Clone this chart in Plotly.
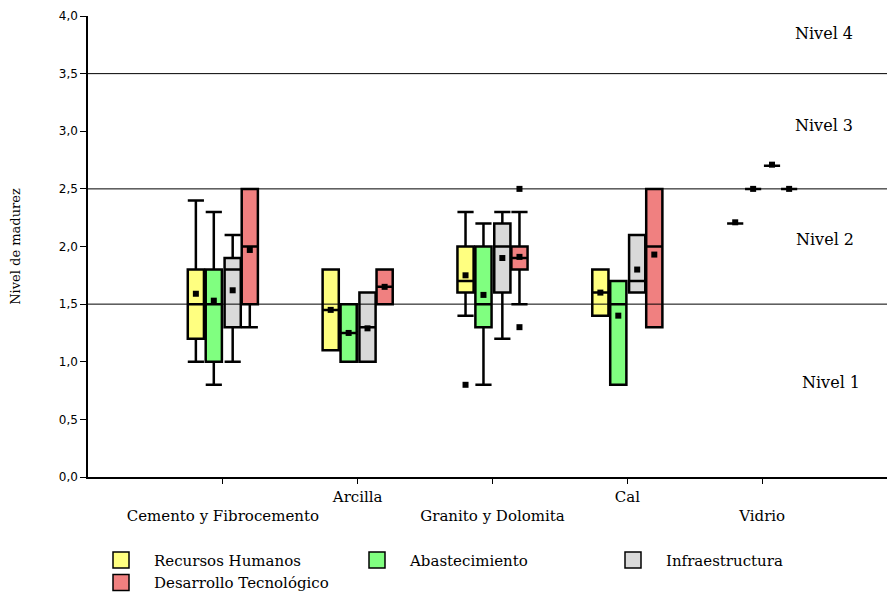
import plotly.graph_objects as go

categories = ["Cemento y Fibrocemento", "Arcilla", "Granito y Dolomita", "Cal", "Vidrio"]
cat_labels = ["\u00a0<br>Cemento y Fibrocemento", "Arcilla", "\u00a0<br>Granito y Dolomita", "Cal", "\u00a0<br>Vidrio"]

series = ["Recursos Humanos", "Abastecimiento", "Infraestructura", "Desarrollo Tecnológico"]
colors = ["#FFFF80", "#80FF80", "#D9D9D9", "#F08080"]

# per series: values for each category
lower = {
    "Recursos Humanos":       [1.0, 1.1, 1.4, 1.4, 2.2],
    "Abastecimiento":         [0.8, 1.0, 0.8, 0.8, 2.5],
    "Infraestructura":        [1.0, 1.0, 1.2, 1.6, 2.7],
    "Desarrollo Tecnológico": [1.3, 1.5, 1.5, 1.3, 2.5],
}
q1 = {
    "Recursos Humanos":       [1.2, 1.1, 1.6, 1.4, 2.2],
    "Abastecimiento":         [1.0, 1.0, 1.3, 0.8, 2.5],
    "Infraestructura":        [1.3, 1.0, 1.6, 1.6, 2.7],
    "Desarrollo Tecnológico": [1.5, 1.5, 1.8, 1.3, 2.5],
}
median = {
    "Recursos Humanos":       [1.5, 1.45, 1.7, 1.6, 2.2],
    "Abastecimiento":         [1.5, 1.25, 1.5, 1.5, 2.5],
    "Infraestructura":        [1.8, 1.3, 2.0, 1.7, 2.7],
    "Desarrollo Tecnológico": [2.0, 1.65, 1.9, 2.0, 2.5],
}
q3 = {
    "Recursos Humanos":       [1.8, 1.8, 2.0, 1.8, 2.2],
    "Abastecimiento":         [1.8, 1.5, 2.0, 1.7, 2.5],
    "Infraestructura":        [1.9, 1.6, 2.2, 2.1, 2.7],
    "Desarrollo Tecnológico": [2.5, 1.8, 2.0, 2.5, 2.5],
}
upper = {
    "Recursos Humanos":       [2.4, 1.8, 2.3, 1.8, 2.2],
    "Abastecimiento":         [2.3, 1.5, 2.2, 1.7, 2.5],
    "Infraestructura":        [2.1, 1.6, 2.3, 2.1, 2.7],
    "Desarrollo Tecnológico": [2.5, 1.8, 2.3, 2.5, 2.5],
}
mean = {
    "Recursos Humanos":       [1.59, 1.45, 1.75, 1.60, 2.21],
    "Abastecimiento":         [1.53, 1.25, 1.58, 1.40, 2.50],
    "Infraestructura":        [1.62, 1.29, 1.90, 1.80, 2.71],
    "Desarrollo Tecnológico": [1.97, 1.65, 1.91, 1.93, 2.50],
}
# outliers: (category index, value)
outliers = {
    "Recursos Humanos":       [(2, 0.8)],
    "Abastecimiento":         [],
    "Infraestructura":        [],
    "Desarrollo Tecnológico": [(2, 2.5), (2, 1.3)],
}

level_lines = [1.5, 2.5, 3.5]
level_labels = ["Nivel 1", "Nivel 2", "Nivel 3", "Nivel 4"]
level_label_y = [0.82, 2.06, 3.05, 3.85]
level_label_x = [0.880, 0.873, 0.871, 0.871]

yticks = [0, 0.5, 1.0, 1.5, 2.0, 2.5, 3.0, 3.5, 4.0]
ytick_text = ["0,0", "0,5", "1,0", "1,5", "2,0", "2,5", "3,0", "3,5", "4,0"]

offsets = [-0.2, -0.067, 0.073, 0.2]
box_w = 0.12
SERIF = "DejaVu Serif"

fig = go.Figure()
ncat = len(categories)
for si, s in enumerate(series):
    xs = [i + offsets[si] for i in range(ncat)]
    fig.add_trace(go.Box(
        x=xs, q1=q1[s], median=median[s], q3=q3[s],
        lowerfence=lower[s], upperfence=upper[s],
        width=box_w, whiskerwidth=1.0,
        fillcolor=colors[si], line=dict(color="black", width=2.5),
        boxpoints=False, showlegend=False, hoverinfo="skip", name=s,
    ))
for si, s in enumerate(series):
    xs = [i + offsets[si] for i in range(ncat)]
    fig.add_trace(go.Scatter(
        x=xs, y=mean[s], mode="markers",
        marker=dict(symbol="square", size=6, color="black"),
        showlegend=False, hoverinfo="skip",
    ))
    if outliers[s]:
        fig.add_trace(go.Scatter(
            x=[c + offsets[si] for c, v in outliers[s]],
            y=[v for c, v in outliers[s]], mode="markers",
            marker=dict(symbol="square", size=6, color="black"),
            showlegend=False, hoverinfo="skip",
        ))
# legend entries
for si, s in enumerate(series):
    fig.add_trace(go.Scatter(
        x=[None], y=[None], mode="markers", name=s,
        marker=dict(symbol="square", size=16, color=colors[si],
                    line=dict(color="black", width=1.5)),
    ))

for v in level_lines:
    fig.add_shape(type="line", xref="paper", yref="y", x0=0, x1=1, y0=v, y1=v,
                  line=dict(color="black", width=1), layer="above")

for t, yv, xv in zip(level_labels, level_label_y, level_label_x):
    fig.add_annotation(text=t, xref="paper", yref="y", x=xv, y=yv, xanchor="left",
                       showarrow=False,
                       font=dict(family=SERIF, size=16, color="black"))

fig.update_layout(
    width=895, height=598,
    margin=dict(l=80, r=6, t=8, b=129),
    plot_bgcolor="white", paper_bgcolor="white",
    boxmode="overlay",
    font=dict(family=SERIF, size=14, color="black"),
    legend=dict(orientation="h", x=0.0, xanchor="left", y=-0.145, yanchor="top",
                entrywidth=185, entrywidthmode="pixels", itemwidth=56,
                font=dict(family=SERIF, size=15), traceorder="normal"),
    xaxis=dict(range=[-1, 5], tickmode="array", tickvals=list(range(ncat)), ticktext=cat_labels,
               showgrid=False, zeroline=False, showline=True, linecolor="black", linewidth=1.5,
               ticks="outside", ticklen=5, tickcolor="black", automargin=False,
               tickfont=dict(family=SERIF, size=15)),
    yaxis=dict(range=[0, 4], tickmode="array", tickvals=yticks, ticktext=ytick_text,
               showgrid=False, zeroline=False, showline=True, linecolor="black", linewidth=1.5,
               ticks="outside", ticklen=6, tickcolor="black", automargin=False,
               tickfont=dict(family="DejaVu Sans", size=12),
               title=dict(text="Nivel de madurez", standoff=38,
                          font=dict(family=SERIF, size=13))),
)

fig.write_html("out.html")
